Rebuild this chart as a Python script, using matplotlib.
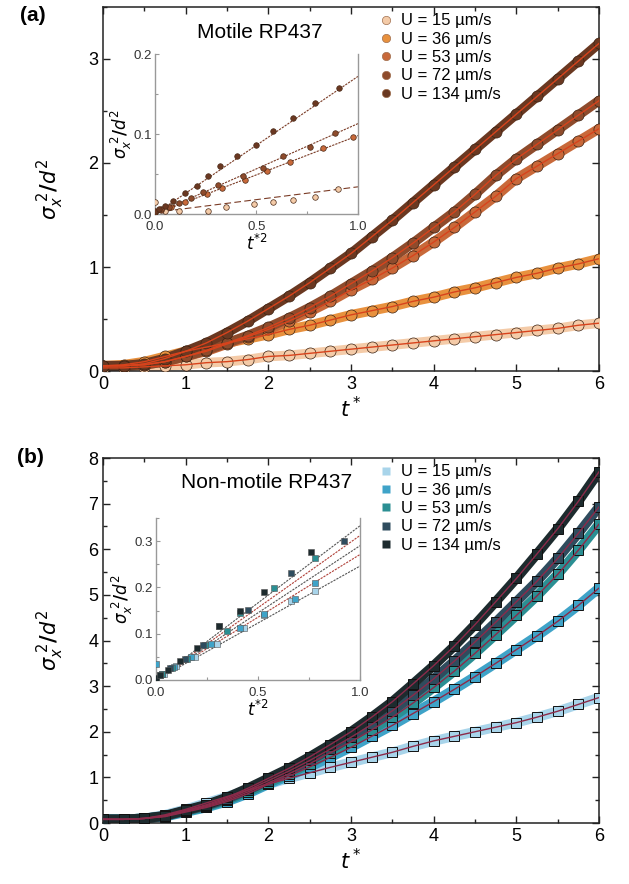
import matplotlib
matplotlib.use('Agg')
import matplotlib.pyplot as plt
from matplotlib.lines import Line2D
from matplotlib.ticker import MultipleLocator

plt.rcParams['font.family'] = ['Liberation Sans', 'DejaVu Sans']
plt.rcParams['mathtext.fontset'] = 'dejavusans'

labels = ['U = 15 µm/s', 'U = 36 µm/s', 'U = 53 µm/s', 'U = 72 µm/s', 'U = 134 µm/s']

# t* sample points of the main curves
t_star = [0.0, 0.25, 0.5, 0.75, 1.0, 1.25, 1.5, 1.75, 2.0, 2.25, 2.5, 2.75, 3.0,
          3.25, 3.5, 3.75, 4.0, 4.25, 4.5, 4.75, 5.0, 5.25, 5.5, 5.75, 6.0]

# (a) motile RP437, sigma_x^2/d^2
mot_15 = [0.03, 0.03, 0.04, 0.05, 0.06, 0.08, 0.09, 0.11, 0.14, 0.15, 0.17, 0.19, 0.21,
          0.23, 0.25, 0.27, 0.29, 0.31, 0.33, 0.35, 0.37, 0.39, 0.41, 0.44, 0.46]
mot_36 = [0.05, 0.06, 0.09, 0.14, 0.19, 0.23, 0.27, 0.31, 0.35, 0.40, 0.44, 0.49, 0.54,
          0.58, 0.62, 0.67, 0.71, 0.76, 0.80, 0.85, 0.90, 0.94, 0.99, 1.03, 1.08]
mot_53 = [0.05, 0.05, 0.06, 0.09, 0.14, 0.19, 0.26, 0.33, 0.40, 0.48, 0.57, 0.67, 0.78,
          0.88, 0.99, 1.11, 1.24, 1.38, 1.53, 1.68, 1.85, 1.97, 2.09, 2.21, 2.33]
mot_72 = [0.05, 0.05, 0.06, 0.09, 0.14, 0.20, 0.27, 0.34, 0.42, 0.51, 0.61, 0.72, 0.84,
          0.96, 1.09, 1.23, 1.38, 1.53, 1.70, 1.88, 2.04, 2.18, 2.32, 2.46, 2.60]
mot_134 = [0.05, 0.05, 0.07, 0.12, 0.19, 0.27, 0.37, 0.48, 0.60, 0.72, 0.85, 0.99, 1.13,
           1.29, 1.45, 1.62, 1.79, 1.96, 2.13, 2.30, 2.47, 2.64, 2.81, 2.98, 3.15]

# (b) non-motile RP437
non_15 = [0.08, 0.08, 0.10, 0.18, 0.30, 0.44, 0.58, 0.72, 0.85, 0.98, 1.10, 1.22, 1.33,
          1.44, 1.55, 1.68, 1.80, 1.90, 2.00, 2.10, 2.20, 2.32, 2.45, 2.60, 2.75]
non_36 = [0.08, 0.08, 0.10, 0.14, 0.24, 0.34, 0.47, 0.64, 0.85, 1.03, 1.23, 1.44, 1.66,
          1.90, 2.14, 2.40, 2.66, 2.93, 3.21, 3.50, 3.80, 4.10, 4.42, 4.77, 5.15]
non_53 = [0.08, 0.08, 0.10, 0.15, 0.26, 0.36, 0.50, 0.68, 0.88, 1.08, 1.30, 1.54, 1.78,
          2.04, 2.32, 2.63, 2.97, 3.33, 3.72, 4.13, 4.55, 4.98, 5.45, 5.98, 6.55]
non_72 = [0.08, 0.08, 0.10, 0.15, 0.27, 0.38, 0.53, 0.72, 0.93, 1.14, 1.37, 1.62, 1.88,
          2.16, 2.46, 2.80, 3.16, 3.55, 3.97, 4.40, 4.85, 5.30, 5.80, 6.35, 6.93]
non_134 = [0.08, 0.08, 0.10, 0.16, 0.28, 0.40, 0.56, 0.76, 0.98, 1.20, 1.45, 1.72, 2.00,
           2.32, 2.66, 3.05, 3.45, 3.88, 4.35, 4.85, 5.36, 5.90, 6.45, 7.05, 7.70]

# inset (a): t*^2 vs sigma^2/d^2
ia_x = {
    '134': [0.0, 0.02, 0.05, 0.09, 0.148, 0.205, 0.263, 0.32, 0.405, 0.498, 0.583, 0.68, 0.79, 0.908],
    '72': [0.0, 0.03, 0.07, 0.12, 0.175, 0.238, 0.312, 0.435, 0.534, 0.632, 0.764, 0.887],
    '53': [0.0, 0.03, 0.08, 0.15, 0.254, 0.33, 0.443, 0.55, 0.665, 0.83, 0.977],
    '15': [0.0, 0.05, 0.12, 0.263, 0.35, 0.49, 0.58, 0.68, 0.788, 0.903],
}
ia_y = {
    '134': [0.004, 0.006, 0.010, 0.016, 0.026, 0.035, 0.047, 0.060, 0.072, 0.086, 0.104, 0.120, 0.139, 0.157],
    '72': [0.003, 0.006, 0.009, 0.014, 0.020, 0.028, 0.036, 0.047, 0.057, 0.072, 0.084, 0.101],
    '53': [0.003, 0.005, 0.009, 0.015, 0.025, 0.033, 0.0425, 0.054, 0.065, 0.083, 0.096],
    '15': [0.015, 0.004, 0.004, 0.004, 0.009, 0.0125, 0.015, 0.0175, 0.0216, 0.031],
}
ia_fit = {'134': [0.0, 0.172], '72': [0.0, 0.113], '53': [0.0, 0.098], '15': [0.002, 0.034]}

# inset (b)
ib_x = {
    '15': [0.0, 0.04, 0.10, 0.19, 0.30, 0.43, 0.53, 0.66, 0.78],
    '36': [0.0, 0.03, 0.09, 0.17, 0.27, 0.41, 0.53, 0.68, 0.78],
    '53': [0.0, 0.03, 0.08, 0.15, 0.24, 0.35, 0.41, 0.58, 0.78],
    '72': [0.0, 0.02, 0.07, 0.14, 0.23, 0.31, 0.45, 0.66, 0.92],
    '134': [0.0, 0.02, 0.06, 0.12, 0.20, 0.31, 0.41, 0.53, 0.76],
}
ib_y = {
    '15': [0.004, 0.012, 0.030, 0.050, 0.078, 0.112, 0.141, 0.170, 0.192],
    '36': [0.035, 0.012, 0.028, 0.050, 0.078, 0.113, 0.143, 0.175, 0.210],
    '53': [0.005, 0.012, 0.025, 0.046, 0.075, 0.105, 0.145, 0.199, 0.264],
    '72': [0.005, 0.010, 0.025, 0.045, 0.075, 0.116, 0.152, 0.231, 0.300],
    '134': [0.005, 0.010, 0.022, 0.040, 0.069, 0.116, 0.150, 0.191, 0.276],
}
ib_fit = {'15': [0.0, 0.246], '36': [0.0, 0.271], '53': [0.0, 0.290], '72': [0.0, 0.312], '134': [0.0, 0.333]}

col_a = ['#f4cba8', '#e8913e', '#c8693a', '#8e4b2c', '#6a3821']
col_b = ['#a8d4ea', '#3fa3c8', '#2b8f93', '#2f4c5e', '#1d2b2e']
keys = ['15', '36', '53', '72', '134']


def style_main(ax, ymax, ymajor):
    ax.set_xlim(0, 6)
    ax.set_ylim(0, ymax)
    ax.xaxis.set_major_locator(MultipleLocator(1))
    ax.xaxis.set_minor_locator(MultipleLocator(0.5))
    ax.yaxis.set_major_locator(MultipleLocator(ymajor))
    ax.yaxis.set_minor_locator(MultipleLocator(ymajor / 2))
    ax.tick_params(which='both', direction='in', top=True, right=True, labelsize=13,
                   color='#222222', width=1)
    ax.tick_params(which='major', length=5)
    ax.tick_params(which='minor', length=3)
    for s in ax.spines.values():
        s.set_linewidth(1.1)
        s.set_color('#222222')
    ax.set_xlabel(r'$\boldsymbol{t^*}$', fontsize=15, labelpad=2)
    ax.set_ylabel(r'$\boldsymbol{\sigma_x^{\ 2}/d^2}$', fontsize=15, labelpad=16)


def style_inset(ax, ymax, ymajor):
    ax.set_xlim(0, 1.0)
    ax.set_ylim(0, ymax)
    ax.xaxis.set_major_locator(MultipleLocator(0.5))
    ax.xaxis.set_minor_locator(MultipleLocator(0.25))
    ax.yaxis.set_major_locator(MultipleLocator(ymajor))
    ax.yaxis.set_minor_locator(MultipleLocator(ymajor / 2))
    ax.tick_params(which='both', direction='in', labelsize=9.5, color='#999999',
                   labelcolor='#333333', length=3, width=0.8)
    ax.tick_params(axis='x', pad=5)
    ax.tick_params(axis='y', pad=2)
    ax.tick_params(which='minor', length=2)
    for s in ax.spines.values():
        s.set_color('#999999')
        s.set_linewidth(1.0)
    ax.spines['top'].set_visible(False)
    ax.set_xlabel(r'$\boldsymbol{t^{*2}}$', fontsize=12, labelpad=0)
    ax.set_ylabel(r'$\boldsymbol{\sigma_x^{\ 2}/d^2}$', fontsize=12, labelpad=0)


fig = plt.figure(figsize=(6.29, 8.84), dpi=100)

# ---------- (a) ----------
ax1 = fig.add_axes([0.1638, 0.5803, 0.7886, 0.4118])
series_a = [mot_15, mot_36, mot_53, mot_72, mot_134]
for vals, c in zip(series_a, col_a):
    ax1.plot(t_star, vals, '-', color=c, lw=7, solid_capstyle='round', zorder=2)
    ax1.plot(t_star, vals, 'o', ms=8, mfc=c, mec='#3b2314', mew=0.5, zorder=3)
    ax1.plot(t_star, vals, '-', color='#d8431c', lw=1.0, zorder=4)
style_main(ax1, 3.5, 1)
handles = [Line2D([], [], marker='o', ls='none', ms=6, mfc=c, mec='#a07050', mew=0.5) for c in col_a]
ax1.legend(handles, labels, loc='upper left', bbox_to_anchor=(0.53, 1.01), frameon=False,
           fontsize=12, handletextpad=0.3, labelspacing=0.2, borderaxespad=0.2, handlelength=1.2)
ax1.text(0.317, 0.931, 'Motile RP437', transform=ax1.transAxes, ha='center', va='center', fontsize=15)
fig.text(0.052, 0.982, '(a)', fontsize=15, fontweight='bold', ha='center', va='center')

ins1 = fig.add_axes([0.2464, 0.7579, 0.3227, 0.181])
for k, c in zip(['15', '53', '72', '134'], [col_a[0], col_a[2], col_a[3], col_a[4]]):
    ls = (0, (6, 3)) if k == '15' else (0, (2, 1))
    ins1.plot([0, 1], ia_fit[k], ls=ls, color='#7a3b25', lw=0.8, zorder=2)
    ins1.plot(ia_x[k], ia_y[k], 'o', ms=4, mfc=c, mec='#4a2a18', mew=0.5, zorder=3)
style_inset(ins1, 0.2, 0.1)

# ---------- (b) ----------
ax2 = fig.add_axes([0.1638, 0.069, 0.7886, 0.4129])
series_b = [non_15, non_36, non_53, non_72, non_134]
for vals, c in zip(series_b, col_b):
    ax2.plot(t_star, vals, '-', color=c, lw=7, solid_capstyle='round', zorder=2)
    ax2.plot(t_star, vals, 's', ms=7.5, mfc=c, mec='#111111', mew=0.7, zorder=3)
    ax2.plot(t_star, vals, '-', color='#8c2a4a', lw=1.0, zorder=4)
style_main(ax2, 8, 1)
ax2.yaxis.set_minor_locator(MultipleLocator(0.5))
handles = [Line2D([], [], marker='s', ls='none', ms=6, mfc=c, mec='none') for c in col_b]
ax2.legend(handles, labels, loc='upper left', bbox_to_anchor=(0.53, 1.01), frameon=False,
           fontsize=12, handletextpad=0.3, labelspacing=0.2, borderaxespad=0.2, handlelength=1.2)
ax2.text(0.33, 0.932, 'Non-motile RP437', transform=ax2.transAxes, ha='center', va='center', fontsize=15)
fig.text(0.048, 0.482, '(b)', fontsize=15, fontweight='bold', ha='center', va='center')

ins2 = fig.add_axes([0.248, 0.2308, 0.3243, 0.1833])
for k, c in zip(keys, col_b):
    lc = '#b04038' if k in ('36', '72') else '#555555'
    ins2.plot([0, 1], ib_fit[k], ls=(0, (2, 1)), color=lc, lw=0.8, zorder=2)
    ins2.plot(ib_x[k], ib_y[k], 's', ms=4, mfc=c, mec='#555555', mew=0.4, zorder=3)
style_inset(ins2, 0.35, 0.1)

fig.savefig('out.png', dpi=100)
